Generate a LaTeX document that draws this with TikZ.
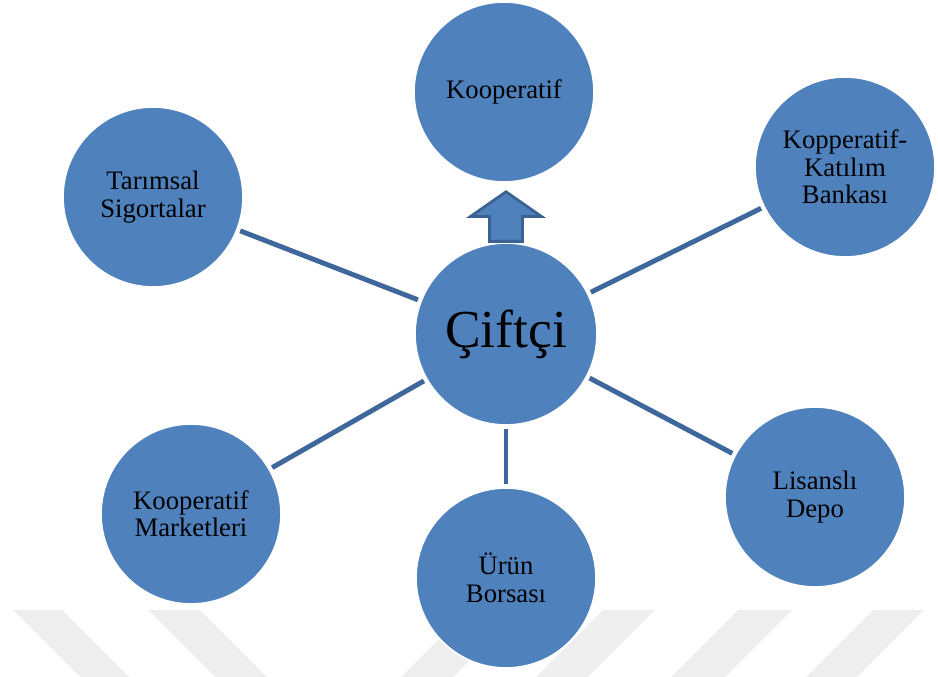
\documentclass[tikz,border=0pt]{standalone}
\usepackage{fontspec}
\setmainfont{Liberation Serif}
\definecolor{bubblefill}{RGB}{79,129,189}
\definecolor{spokeblue}{RGB}{62,104,156}
\definecolor{arrowline}{RGB}{60,98,148}
\definecolor{stripegray}{RGB}{238,238,238}
\tikzset{
  bubble/.style={circle, fill=bubblefill, draw=white, line width=1.2pt,
    minimum size=4.5cm, inner sep=0pt, outer sep=2.5pt, align=center,
    font=\fontsize{19}{19.5}\selectfont},
  hub/.style={bubble, minimum size=4.55cm, font=\fontsize{38}{40}\selectfont},
  spoke/.style={draw=spokeblue, line width=3.5pt},
  uparrow/.style={fill=bubblefill, draw=arrowline, line width=2pt},
}

\begin{document}
\begin{tikzpicture}
  \useasboundingbox (0,0) rectangle (23.45,16.925);
  % watermark stripes
  \fill[stripegray] (0.325,1.675) -- (1.55,1.675) -- (3.225,0) -- (2.0,0) -- cycle;
  \fill[stripegray] (3.7,1.675) -- (5.0,1.675) -- (6.675,0) -- (5.375,0) -- cycle;
  \fill[stripegray] (11.7,1.675) -- (13.0,1.675) -- (11.325,0) -- (10.025,0) -- cycle;
  \fill[stripegray] (15.075,1.675) -- (16.375,1.675) -- (14.7,0) -- (13.4,0) -- cycle;
  \fill[stripegray] (18.45,1.675) -- (19.8,1.675) -- (18.125,0) -- (16.775,0) -- cycle;
  \fill[stripegray] (21.825,1.675) -- (23.1,1.675) -- (21.425,0) -- (20.15,0) -- cycle;

  \node[hub] (farmer) at (12.65,8.575) {Çiftçi};
  \node[bubble] (coop) at (12.6,14.625) {Kooperatif};
  \node[bubble] (bank) at (21.125,12.75) {Kopperatif-\\Katılım\\Bankası};
  \node[bubble] (insurance) at (3.825,12.0) {Tarımsal\\Sigortalar};
  \node[bubble] (markets) at (4.775,4.075) {Kooperatif\\Marketleri};
  \node[bubble] (exchange) at (12.65,2.475) {Ürün\\Borsası};
  \node[bubble] (depot) at (20.375,4.5) {Lisanslı\\Depo};

  \draw[spoke] (farmer) -- (insurance);
  \draw[spoke] (farmer) -- (bank);
  \draw[spoke] (farmer) -- (markets);
  \draw[spoke] (farmer) -- (depot);
  \draw[spoke] (farmer) -- (exchange);

  \draw[uparrow] (12.24,10.89) -- (12.24,11.51) -- (11.76,11.51) -- (12.65,12.13)
    -- (13.54,11.51) -- (13.06,11.51) -- (13.06,10.89) -- cycle;
\end{tikzpicture}
\end{document}
